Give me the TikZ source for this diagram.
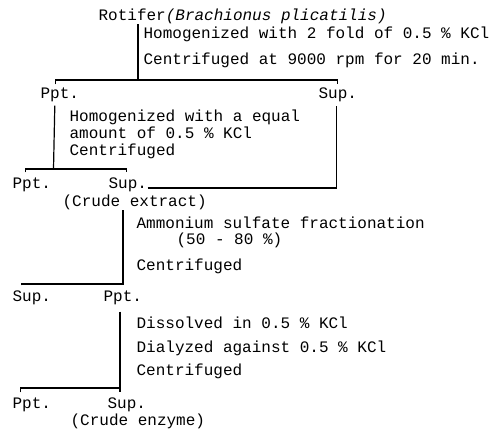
\documentclass[tikz,border=0pt]{standalone}
\usepackage{fontspec}
\setmonofont{Liberation Mono}
\usepackage{tikz}

\begin{document}
\begin{tikzpicture}[x=1pt,y=-1pt,line width=1.2pt,
  txt/.style={anchor=west,inner sep=0pt,align=left,font=\ttfamily\fontsize{16}{17}\selectfont}]
\useasboundingbox (0,0) rectangle (494,429);
\node[txt] (rot) at (98,16) {Rotifer{\itshape(Brachionus plicatilis)}};
\node[txt] (st1) at (143,34) {Homogenized with 2 fold of 0.5 \% KCl};
\node[txt] (st2) at (143,60) {Centrifuged at 9000 rpm for 20 min.};
\node[txt] (p1) at (40,95) {Ppt.};
\node[txt] (s1) at (318,95) {Sup.};
\node[txt] (st3) at (69,134) {Homogenized with a equal\\amount of 0.5 \% KCl\\Centrifuged};
\node[txt] (p2) at (12,185) {Ppt.};
\node[txt] (s2) at (108,185) {Sup.};
\node[txt] (ce) at (62,202) {(Crude extract)};
\node[txt] (st4) at (136,223) {Ammonium sulfate fractionation};
\node[txt] (st5) at (176,240) {(50 - 80 \%)};
\node[txt] (st6) at (136,266) {Centrifuged};
\node[txt] (s3) at (12,298) {Sup.};
\node[txt] (p3) at (103,298) {Ppt.};
\node[txt] (st7) at (136,323) {Dissolved in 0.5 \% KCl};
\node[txt] (st8) at (136,348) {Dialyzed against 0.5 \% KCl};
\node[txt] (st9) at (136,371) {Centrifuged};
\node[txt] (p4) at (12,405) {Ppt.};
\node[txt] (s4) at (107,405) {Sup.};
\node[txt] (cz) at (70,421) {(Crude enzyme)};
\coordinate (b1) at (138,80);
\coordinate (b2) at (53.5,169);
\coordinate (b3) at (123,284);
\coordinate (b4) at (120,388);
\draw (rot.south -| b1) -- (b1);
\draw ([xshift=-4pt,yshift=3pt]p1.north) |- (b1) -| ([yshift=3pt]s1.north);
\draw ([xshift=-5pt,yshift=-3pt]p1.south) -- (b2);
\draw ([xshift=-6pt,yshift=5pt]p2.north) |- (b2) -| ([xshift=-1pt,yshift=5pt]s2.north);
\draw ([yshift=-3pt]s2.east) -| ([xshift=-1pt,yshift=-3pt]s1.south);
\draw (ce.south -| b3) -- (b3);
\draw ([xshift=-10pt,yshift=5pt]s3.north) |- (b3) -- ([yshift=5pt]p3.north -| b3);
\draw ([yshift=-6pt]p3.south -| b4) -- (b4);
\draw ([xshift=-11pt,yshift=5pt]p4.north) |- (b4) -- ([yshift=5pt]s4.north -| b4);
\end{tikzpicture}
\end{document}
